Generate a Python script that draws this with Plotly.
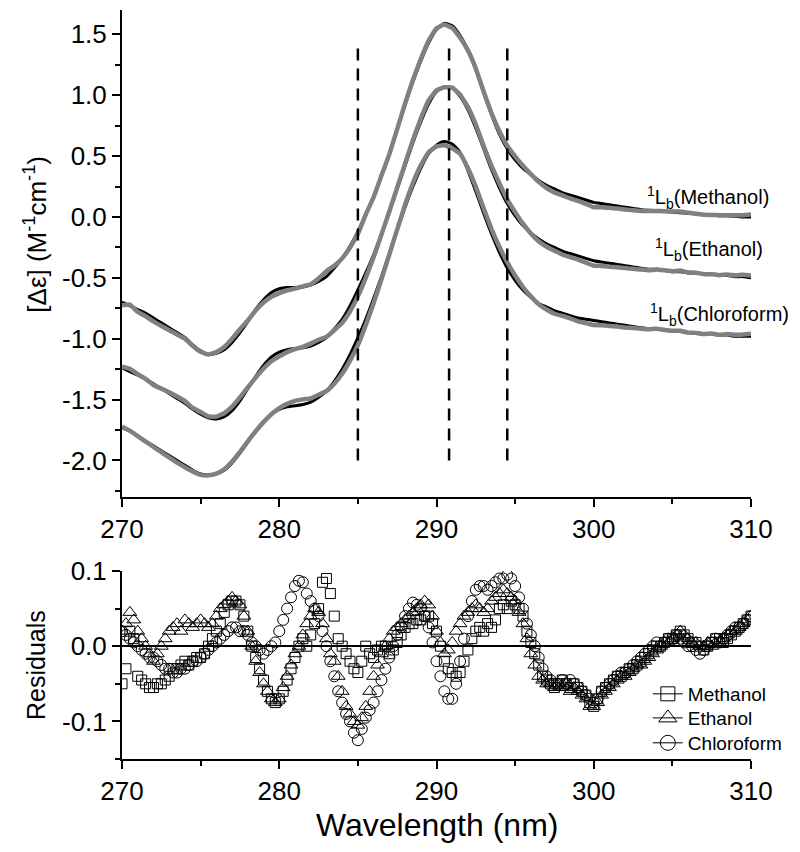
import numpy as np
import plotly.graph_objects as go

# ---------------- data ----------------
wl = np.arange(270, 310.001, 0.5)        # CD spectra wavelength grid (nm)
wl_res = np.arange(270, 310.001, 0.25)   # residuals wavelength grid (nm)

methanol_fit = [
    -0.70, -0.73, -0.76, -0.79, -0.83, -0.87, -0.91, -0.95, -0.99, -1.05,
    -1.10, -1.13, -1.12, -1.09, -1.03, -0.95, -0.86, -0.76, -0.68, -0.62,
    -0.59, -0.58, -0.58, -0.575, -0.56, -0.53, -0.49, -0.42, -0.34, -0.24,
    -0.12, 0.02, 0.17, 0.34, 0.52, 0.72, 0.92, 1.11, 1.28, 1.43,
    1.54, 1.59, 1.57, 1.49, 1.37, 1.21, 1.02, 0.84, 0.68, 0.56,
    0.47, 0.40, 0.35, 0.30, 0.26, 0.23, 0.20, 0.18, 0.16, 0.14,
    0.12, 0.11, 0.10, 0.09, 0.08, 0.07, 0.06, 0.055, 0.05, 0.045,
    0.04, 0.035, 0.03, 0.025, 0.02, 0.015, 0.01, 0.01, 0.005, 0.0,
    0.0]
methanol_data = [
    -0.725, -0.72, -0.78, -0.815, -0.858, -0.895, -0.93, -0.965, -1.0, -1.06,
    -1.108, -1.13, -1.11, -1.068, -1.0, -0.922, -0.85, -0.768, -0.702, -0.655,
    -0.625, -0.602, -0.588, -0.57, -0.552, -0.505, -0.445, -0.40, -0.34, -0.25,
    -0.138, 0.02, 0.162, 0.34, 0.515, 0.722, 0.932, 1.125, 1.298, 1.45,
    1.55, 1.58, 1.552, 1.472, 1.368, 1.22, 1.03, 0.852, 0.705, 0.585,
    0.498, 0.42, 0.352, 0.288, 0.238, 0.202, 0.178, 0.152, 0.132, 0.108,
    0.08, 0.08, 0.075, 0.07, 0.062, 0.055, 0.05, 0.05, 0.05, 0.047,
    0.045, 0.045, 0.035, 0.027, 0.018, 0.017, 0.015, 0.015, 0.015, 0.015,
    0.02]

ethanol_fit = [
    -1.24, -1.27, -1.30, -1.33, -1.37, -1.41, -1.45, -1.49, -1.53, -1.58,
    -1.62, -1.65, -1.66, -1.64, -1.59, -1.51, -1.41, -1.31, -1.22, -1.15,
    -1.11, -1.09, -1.08, -1.075, -1.06, -1.03, -0.99, -0.92, -0.84, -0.73,
    -0.60, -0.46, -0.31, -0.14, 0.04, 0.23, 0.42, 0.61, 0.78, 0.93,
    1.03, 1.07, 1.06, 0.99, 0.88, 0.73, 0.56, 0.39, 0.24, 0.11,
    0.01, -0.07, -0.13, -0.18, -0.22, -0.25, -0.28, -0.30, -0.32, -0.34,
    -0.36, -0.37, -0.38, -0.39, -0.40, -0.41, -0.42, -0.43, -0.43, -0.44,
    -0.45, -0.45, -0.46, -0.46, -0.47, -0.47, -0.48, -0.48, -0.49, -0.49,
    -0.50]
ethanol_data = [
    -1.23, -1.248, -1.29, -1.33, -1.38, -1.41, -1.44, -1.475, -1.512, -1.568,
    -1.602, -1.638, -1.64, -1.612, -1.558, -1.482, -1.40, -1.32, -1.245, -1.185,
    -1.145, -1.11, -1.085, -1.067, -1.04, -1.008, -0.985, -0.93, -0.87, -0.775,
    -0.652, -0.50, -0.33, -0.145, 0.045, 0.242, 0.438, 0.632, 0.808, 0.958,
    1.04, 1.065, 1.062, 1.005, 0.902, 0.758, 0.582, 0.42, 0.275, 0.145,
    0.04, -0.055, -0.135, -0.20, -0.245, -0.278, -0.308, -0.33, -0.35, -0.375,
    -0.40, -0.402, -0.408, -0.412, -0.42, -0.425, -0.432, -0.438, -0.432, -0.438,
    -0.445, -0.44, -0.455, -0.458, -0.47, -0.47, -0.478, -0.472, -0.48, -0.475,
    -0.48]

chloroform_fit = [
    -1.73, -1.76, -1.80, -1.84, -1.88, -1.92, -1.96, -2.00, -2.04, -2.08,
    -2.11, -2.12, -2.11, -2.08, -2.02, -1.94, -1.85, -1.76, -1.68, -1.62,
    -1.58, -1.56, -1.55, -1.54, -1.52, -1.48, -1.43, -1.35, -1.25, -1.13,
    -0.99, -0.84, -0.67, -0.49, -0.30, -0.11, 0.08, 0.25, 0.40, 0.52,
    0.59, 0.62, 0.60, 0.53, 0.38, 0.21, 0.03, -0.14, -0.29, -0.42,
    -0.52, -0.60, -0.66, -0.71, -0.74, -0.77, -0.79, -0.81, -0.83, -0.84,
    -0.85, -0.86, -0.87, -0.88, -0.89, -0.90, -0.91, -0.92, -0.92, -0.93,
    -0.94, -0.94, -0.95, -0.95, -0.96, -0.96, -0.97, -0.97, -0.98, -0.98,
    -0.98]
chloroform_data = [
    -1.72, -1.755, -1.80, -1.845, -1.888, -1.932, -1.975, -2.018, -2.055, -2.09,
    -2.118, -2.122, -2.108, -2.072, -2.008, -1.93, -1.842, -1.76, -1.685, -1.62,
    -1.57, -1.535, -1.51, -1.498, -1.49, -1.46, -1.43, -1.37, -1.288, -1.18,
    -1.052, -0.888, -0.708, -0.512, -0.308, -0.102, 0.10, 0.279, 0.425, 0.532,
    0.58, 0.59, 0.565, 0.52, 0.40, 0.248, 0.07, -0.10, -0.245, -0.372,
    -0.48, -0.575, -0.652, -0.718, -0.76, -0.795, -0.812, -0.832, -0.858, -0.872,
    -0.888, -0.89, -0.895, -0.90, -0.908, -0.912, -0.918, -0.922, -0.918, -0.928,
    -0.935, -0.935, -0.95, -0.952, -0.962, -0.958, -0.968, -0.962, -0.968, -0.965,
    -0.96]

res_methanol = [
    -0.05, -0.03, 0.02, 0.01, -0.04, -0.045, -0.05, -0.055,
    -0.055, -0.05, -0.05, -0.045, -0.04, -0.03, -0.03, -0.025,
    -0.02, -0.025, -0.02, -0.015, -0.015, -0.01, 0.0, 0.01,
    0.02, 0.03, 0.045, 0.055, 0.06, 0.06, 0.055, 0.04,
    0.02, 0.0, -0.015, -0.03, -0.045, -0.06, -0.07, -0.075,
    -0.07, -0.06, -0.045, -0.03, -0.015, 0.0, 0.01, 0.0,
    0.015, 0.03, 0.05, 0.085, 0.09, 0.07, 0.04, 0.01,
    0.0, -0.01, -0.02, -0.03, -0.035, -0.02, 0.0, -0.01,
    -0.015, -0.005, 0.0, 0.0, -0.01, -0.005, 0.005, 0.015,
    0.025, 0.03, 0.03, 0.035, 0.035, 0.04, 0.04, 0.03,
    0.02, 0.0, -0.02, -0.03, -0.035, -0.04, -0.035, -0.02,
    -0.005, 0.01, 0.02, 0.025, 0.02, 0.03, 0.025, 0.035,
    0.05, 0.055, 0.05, 0.06, 0.055, 0.05, 0.04, 0.02,
    0.005, -0.01, -0.025, -0.04, -0.045, -0.05, -0.055, -0.05,
    -0.045, -0.05, -0.055, -0.05, -0.055, -0.06, -0.065, -0.075,
    -0.08, -0.07, -0.06, -0.055, -0.05, -0.045, -0.04, -0.04,
    -0.035, -0.03, -0.03, -0.025, -0.02, -0.015, -0.01, -0.005,
    0.0, 0.0, 0.005, 0.01, 0.01, 0.015, 0.02, 0.015,
    0.01, 0.005, 0.005, 0.0, -0.005, 0.0, 0.005, 0.01,
    0.01, 0.005, 0.01, 0.015, 0.02, 0.025, 0.03, 0.035,
    0.04]
res_ethanol = [
    0.02, 0.03, 0.045, 0.035, 0.02, 0.01, 0.0, -0.01,
    -0.02, -0.01, 0.0, 0.01, 0.02, 0.025, 0.03, 0.02,
    0.035, 0.03, 0.025, 0.03, 0.035, 0.03, 0.025, 0.03,
    0.04, 0.05, 0.055, 0.06, 0.065, 0.06, 0.055, 0.04,
    0.02, 0.0, -0.02, -0.035, -0.05, -0.06, -0.07, -0.075,
    -0.07, -0.055, -0.04, -0.025, -0.01, 0.0, 0.015, 0.03,
    0.04, 0.05, 0.045, 0.03, 0.01, -0.01, -0.02, -0.04,
    -0.06, -0.08, -0.09, -0.1, -0.105, -0.095, -0.08, -0.06,
    -0.04, -0.025, -0.01, 0.0, 0.01, 0.02, 0.025, 0.03,
    0.035, 0.04, 0.045, 0.05, 0.055, 0.06, 0.055, 0.04,
    0.02, 0.005, -0.01, -0.005, 0.005, 0.02, 0.03, 0.04,
    0.045, 0.05, 0.055, 0.05, 0.045, 0.05, 0.06, 0.065,
    0.07, 0.075, 0.07, 0.065, 0.06, 0.045, 0.03, 0.01,
    -0.01, -0.025, -0.04, -0.045, -0.05, -0.05, -0.055, -0.05,
    -0.055, -0.05, -0.06, -0.055, -0.06, -0.065, -0.07, -0.08,
    -0.08, -0.075, -0.065, -0.06, -0.055, -0.05, -0.045, -0.04,
    -0.04, -0.035, -0.03, -0.025, -0.025, -0.02, -0.015, -0.01,
    -0.005, 0.0, 0.005, 0.005, 0.01, 0.015, 0.02, 0.015,
    0.01, 0.005, 0.005, 0.0, 0.0, 0.005, 0.0, 0.005,
    0.005, 0.01, 0.015, 0.02, 0.02, 0.025, 0.03, 0.035,
    0.04]
res_chloroform = [
    0.02, 0.015, 0.01, 0.005, 0.0, -0.005, -0.01, -0.015,
    -0.015, -0.02, -0.025, -0.03, -0.03, -0.035, -0.035, -0.03,
    -0.03, -0.025, -0.02, -0.02, -0.015, -0.01, -0.005, 0.0,
    0.005, 0.01, 0.015, 0.02, 0.025, 0.025, 0.02, 0.02,
    0.015, 0.005, 0.0, -0.005, -0.01, -0.005, 0.0, 0.005,
    0.02, 0.035, 0.05, 0.065, 0.08, 0.087, 0.085, 0.07,
    0.06, 0.05, 0.04, 0.02, 0.0, -0.02, -0.04, -0.06,
    -0.075, -0.09, -0.1, -0.115, -0.125, -0.11, -0.095, -0.085,
    -0.075, -0.06, -0.045, -0.03, -0.015, 0.0, 0.015, 0.025,
    0.04, 0.05, 0.058, 0.055, 0.05, 0.04, 0.025, 0.005,
    -0.02, -0.04, -0.06, -0.07, -0.07, -0.05, -0.02, 0.01,
    0.04, 0.06, 0.075, 0.08, 0.08, 0.075, 0.08, 0.085,
    0.09, 0.09, 0.095, 0.09, 0.08, 0.065, 0.05, 0.03,
    0.015, 0.0, -0.015, -0.03, -0.04, -0.045, -0.05, -0.05,
    -0.045, -0.05, -0.045, -0.05, -0.055, -0.06, -0.065, -0.07,
    -0.075, -0.07, -0.06, -0.055, -0.05, -0.045, -0.04, -0.035,
    -0.035, -0.03, -0.025, -0.02, -0.015, -0.01, -0.005, 0.0,
    0.005, 0.0, 0.005, 0.01, 0.01, 0.015, 0.01, 0.005,
    0.0, 0.0, -0.005, -0.01, -0.005, 0.0, 0.005, 0.01,
    0.005, 0.01, 0.015, 0.02, 0.025, 0.025, 0.03, 0.035,
    0.04]

dashed_wl = [285.0, 290.8, 294.5]
dashed_span = [-2.0, 1.45]

x_ticks = [270, 280, 290, 300, 310]
y_ticks = [-2.0, -1.5, -1.0, -0.5, 0.0, 0.5, 1.0, 1.5]
y_ticktext = ['-2.0', '-1.5', '-1.0', '-0.5', '0.0', '0.5', '1.0', '1.5']
res_ticks = [-0.1, 0.0, 0.1]
res_ticktext = ['-0.1', '0.0', '0.1']

# ---------------- figure ----------------
FONT = 'Liberation Sans, Arial, sans-serif'
GREY = 'rgb(128,128,128)'
fig = go.Figure()

for fit, dat in [(methanol_fit, methanol_data),
                 (ethanol_fit, ethanol_data),
                 (chloroform_fit, chloroform_data)]:
    fig.add_trace(go.Scatter(x=wl, y=fit, mode='lines', showlegend=False,
                             line=dict(color='black', width=3, shape='spline', smoothing=0.6),
                             xaxis='x', yaxis='y', hoverinfo='skip'))
    fig.add_trace(go.Scatter(x=wl, y=dat, mode='lines', showlegend=False,
                             line=dict(color=GREY, width=4.5, shape='spline', smoothing=0.3),
                             xaxis='x', yaxis='y', hoverinfo='skip'))

for xv in dashed_wl:
    fig.add_trace(go.Scatter(x=[xv, xv], y=dashed_span, mode='lines', showlegend=False,
                             line=dict(color='black', width=2.5, dash='12px,8px'),
                             xaxis='x', yaxis='y', hoverinfo='skip'))

series = [('Methanol', res_methanol, 'square-open', 10, 'legend'),
          ('Ethanol', res_ethanol, 'triangle-up-open', 12, 'legend2'),
          ('Chloroform', res_chloroform, 'circle-open', 11, 'legend3')]
for name, vals, sym, sz, lg in series:
    fig.add_trace(go.Scatter(x=wl_res, y=vals, mode='markers', showlegend=False,
                             marker=dict(symbol=sym, size=sz, color='black',
                                         line=dict(width=1, color='black')),
                             xaxis='x2', yaxis='y2', hoverinfo='skip'))
for name, vals, sym, sz, lg in series:
    fig.add_trace(go.Scatter(x=[None], y=[None], mode='lines+markers', name=name,
                             legend=lg,
                             marker=dict(symbol=sym, size=sz + 4, color='black',
                                         line=dict(width=1, color='black')),
                             line=dict(color='black', width=1),
                             xaxis='x2', yaxis='y2'))

tickfont = dict(family=FONT, size=26, color='black')
common = dict(showline=True, linecolor='black', linewidth=2, ticks='outside',
              ticklen=8, tickwidth=2, tickcolor='black', showgrid=False,
              automargin=False, tickfont=tickfont)

legend_common = dict(x=0.836, xanchor='left', yanchor='middle',
                     bgcolor='rgba(0,0,0,0)', borderwidth=0,
                     font=dict(family=FONT, size=19, color='black'))

fig.update_layout(
    template='none',
    width=800, height=852,
    margin=dict(l=122, r=49, t=10, b=93, pad=0),
    paper_bgcolor='white', plot_bgcolor='white',
    xaxis=dict(domain=[0, 1], anchor='y', range=[270, 310], zeroline=False,
               tickvals=x_ticks, ticktext=[str(v) for v in x_ticks],
               minor=dict(dtick=5, tick0=270, ticks='outside', ticklen=5,
                          tickwidth=2, tickcolor='black'), **common),
    yaxis=dict(domain=[0.3498, 1], anchor='x', range=[-2.3, 1.7], zeroline=False,
               tickvals=y_ticks, ticktext=y_ticktext,
               minor=dict(dtick=0.25, tick0=0, ticks='outside', ticklen=5,
                          tickwidth=2, tickcolor='black'), **common),
    xaxis2=dict(domain=[0, 1], anchor='y2', range=[270, 310], zeroline=False,
                tickvals=x_ticks, ticktext=[str(v) for v in x_ticks],
                minor=dict(dtick=5, tick0=270, ticks='outside', ticklen=5,
                           tickwidth=2, tickcolor='black'), **common),
    yaxis2=dict(domain=[0, 0.251], anchor='x2', range=[-0.15, 0.1],
                tickvals=res_ticks, ticktext=res_ticktext,
                minor=dict(dtick=0.05, tick0=0, ticks='outside', ticklen=5,
                           tickwidth=2, tickcolor='black'),
                zeroline=True, zerolinecolor='black', zerolinewidth=1.5, **common),
    legend=dict(y=0.0868, **legend_common),
    legend2=dict(y=0.0547, **legend_common),
    legend3=dict(y=0.0214, **legend_common),
    showlegend=True,
)

ann_font = dict(family=FONT, size=20, color='black')
fig.add_annotation(x=303.26, y=0.164, xref='x', yref='y', xanchor='left', yanchor='middle',
                   text='<sup>1</sup>L<sub>b</sub>(Methanol)', showarrow=False, font=ann_font)
fig.add_annotation(x=303.77, y=-0.271, xref='x', yref='y', xanchor='left', yanchor='middle',
                   text='<sup>1</sup>L<sub>b</sub>(Ethanol)', showarrow=False, font=ann_font)
fig.add_annotation(x=303.45, y=-0.805, xref='x', yref='y', xanchor='left', yanchor='middle',
                   text='<sup>1</sup>L<sub>b</sub>(Chloroform)', showarrow=False, font=ann_font)

fig.add_annotation(x=-0.1367, y=0.70, xref='paper', yref='paper', textangle=-90,
                   xanchor='center', yanchor='middle', showarrow=False,
                   text='[\u0394\u03b5] (M<sup>-1</sup>cm<sup>-1</sup>)',
                   font=dict(family=FONT, size=26, color='black'))
fig.add_annotation(x=-0.1367, y=0.1255, xref='paper', yref='paper', textangle=-90,
                   xanchor='center', yanchor='middle', showarrow=False,
                   text='Residuals', font=dict(family=FONT, size=25, color='black'))
fig.add_annotation(x=0.5008, y=-0.088, xref='paper', yref='paper',
                   xanchor='center', yanchor='middle', showarrow=False,
                   text='Wavelength (nm)', font=dict(family=FONT, size=32, color='black'))

fig.write_html("out.html", config={'displayModeBar': False},
               post_script="document.body.style.margin='0';")
